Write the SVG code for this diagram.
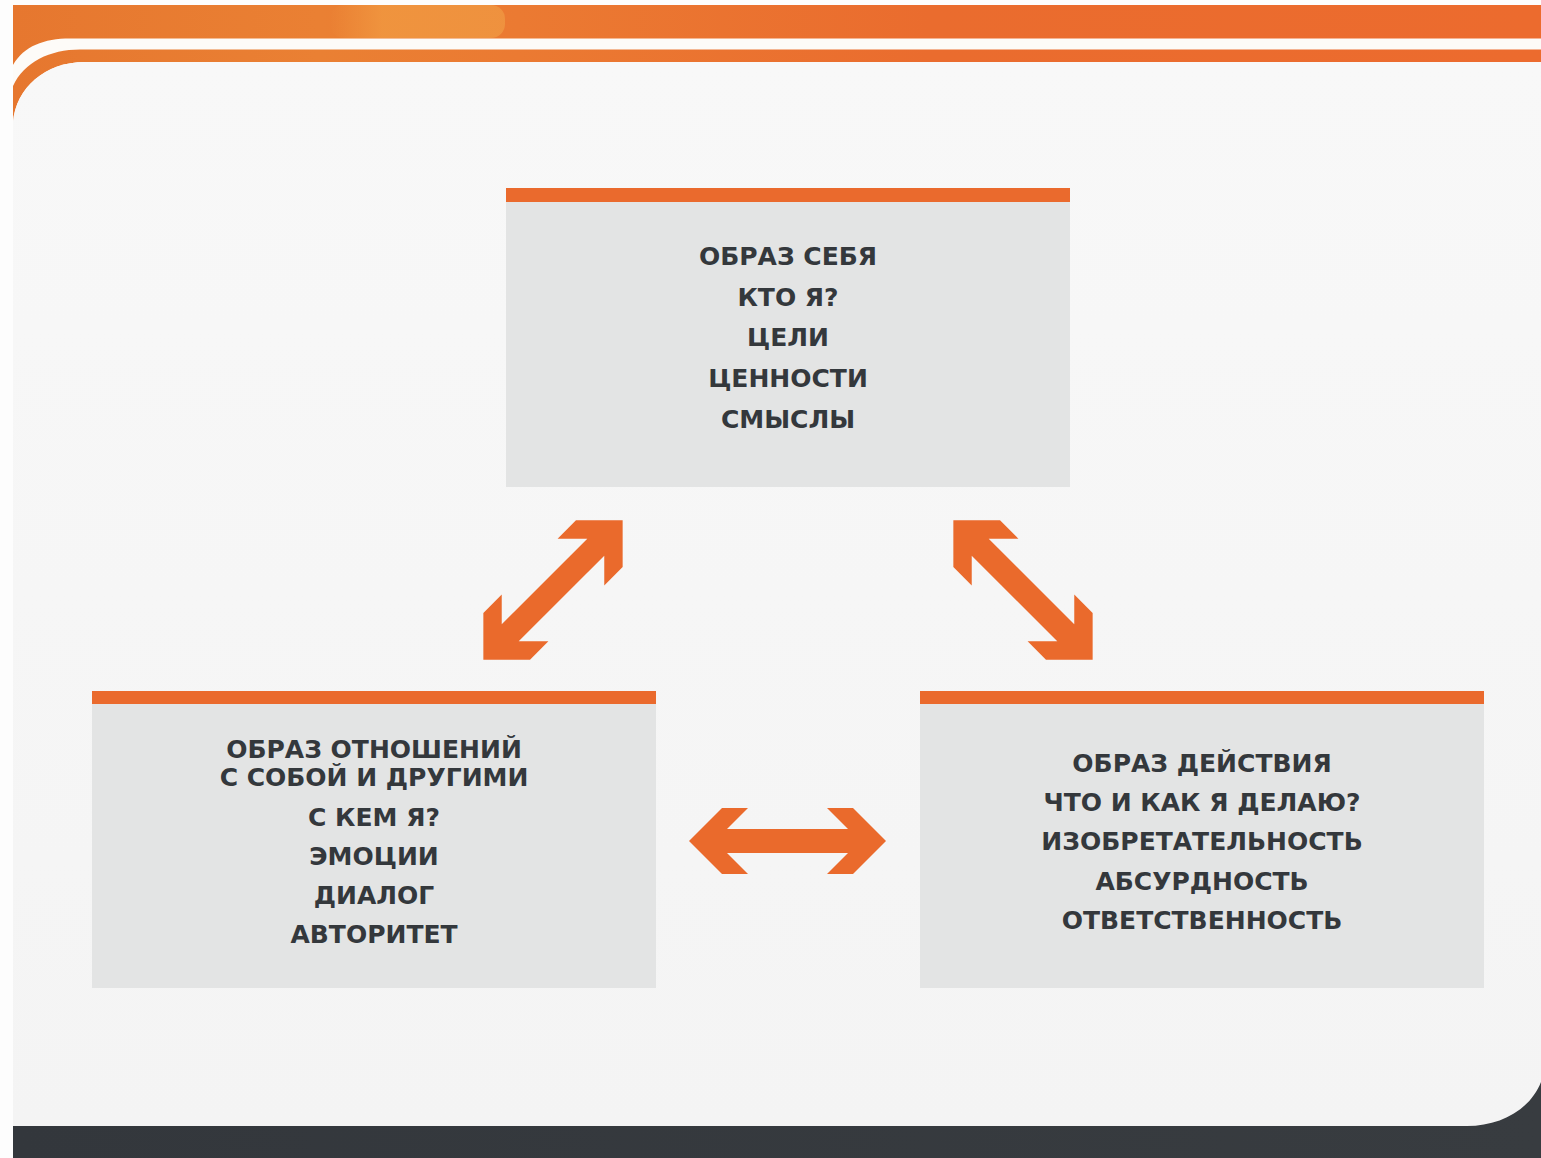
<svg xmlns="http://www.w3.org/2000/svg" width="1541" height="1158" viewBox="0 0 1541 1158">
  <style>
    .bar { fill: #ea6a2d; }
    .box { fill: #e3e4e4; }
    .t { font-family: "DejaVu Sans", "Liberation Sans", sans-serif; font-weight: bold; font-size: 25px; fill: #34383c; text-anchor: middle; }
    .arrow { fill: #ea6a2c; }
  </style>
  <defs>
    <linearGradient id="topg" x1="0" y1="0" x2="1" y2="0">
      <stop offset="0" stop-color="#e6772f"/>
      <stop offset="0.2" stop-color="#ea8033"/>
      <stop offset="0.33" stop-color="#eb7a32"/>
      <stop offset="0.6" stop-color="#ea6c2e"/>
      <stop offset="1" stop-color="#ec6b2e"/>
    </linearGradient>
    <linearGradient id="patch" x1="0" y1="0" x2="1" y2="0">
      <stop offset="0" stop-color="#f0963f" stop-opacity="0"/>
      <stop offset="0.3" stop-color="#f0963f" stop-opacity="0.9"/>
      <stop offset="1" stop-color="#ef9440" stop-opacity="0.9"/>
    </linearGradient>
    <linearGradient id="panelg" x1="0" y1="0" x2="0" y2="1">
      <stop offset="0" stop-color="#f8f8f8"/>
      <stop offset="1" stop-color="#f4f4f4"/>
    </linearGradient>
    <linearGradient id="darkg" x1="0" y1="0" x2="1" y2="0">
      <stop offset="0" stop-color="#33373c"/>
      <stop offset="1" stop-color="#383c40"/>
    </linearGradient>
    <path id="dbl" d="M98.5,0 L65.5,-33 L39.5,-33 L60.5,-12 L-60.5,-12 L-39.5,-33 L-65.5,-33 L-98.5,0 L-65.5,33 L-39.5,33 L-60.5,12 L60.5,12 L39.5,33 L65.5,33 Z"/>
  </defs>

  <g id="background">
    <rect x="0" y="0" width="1541" height="1158" fill="#fdfdfd"/>
    <path d="M13,5 H1541 V62 H85 C45,62 16,88 13,122 Z" fill="url(#topg)"/>
    <rect x="330" y="5" width="175" height="33" rx="14" fill="url(#patch)"/>
    <path d="M13,65 C24,46 44,38.5 70,38.5 H1541 V49.5 H80 C50,49.5 24,62 13,86 Z" fill="#fdfbf8"/>
    <path d="M13,122 C16,88 45,62 85,62 H1541 V1082 C1530,1110 1500,1126 1467,1126 H13 Z" fill="url(#panelg)"/>
    <path d="M13,1126 H1467 C1500,1126 1530,1110 1541,1082 V1158 H13 Z" fill="url(#darkg)"/>
  </g>

  <g id="node-self">
    <rect class="box" x="506" y="202" width="564" height="285"/>
    <rect class="bar" x="506" y="188" width="564" height="14"/>
    <text class="t" x="788" y="265">ОБРАЗ СЕБЯ</text>
    <text class="t" x="788" y="306">КТО Я?</text>
    <text class="t" x="788" y="346">ЦЕЛИ</text>
    <text class="t" x="788" y="387">ЦЕННОСТИ</text>
    <text class="t" x="788" y="428">СМЫСЛЫ</text>
  </g>

  <g id="node-relations">
    <rect class="box" x="92" y="704" width="564" height="284"/>
    <rect class="bar" x="92" y="691" width="564" height="13"/>
    <text class="t" x="374" y="758">ОБРАЗ ОТНОШЕНИЙ</text>
    <text class="t" x="374" y="786">С СОБОЙ И ДРУГИМИ</text>
    <text class="t" x="374" y="826">С КЕМ Я?</text>
    <text class="t" x="374" y="865">ЭМОЦИИ</text>
    <text class="t" x="374" y="904">ДИАЛОГ</text>
    <text class="t" x="374" y="943">АВТОРИТЕТ</text>
  </g>

  <g id="node-action">
    <rect class="box" x="920" y="704" width="564" height="284"/>
    <rect class="bar" x="920" y="691" width="564" height="13"/>
    <text class="t" x="1202" y="772">ОБРАЗ ДЕЙСТВИЯ</text>
    <text class="t" x="1202" y="811">ЧТО И КАК Я ДЕЛАЮ?</text>
    <text class="t" x="1202" y="850">ИЗОБРЕТАТЕЛЬНОСТЬ</text>
    <text class="t" x="1202" y="890">АБСУРДНОСТЬ</text>
    <text class="t" x="1202" y="929">ОТВЕТСТВЕННОСТЬ</text>
  </g>

  <g id="connectors">
    <use href="#dbl" class="arrow" transform="translate(553,590) rotate(-45)"/>
    <use href="#dbl" class="arrow" transform="translate(1023,590) rotate(45)"/>
    <use href="#dbl" class="arrow" transform="translate(787.5,841)"/>
  </g>
</svg>
